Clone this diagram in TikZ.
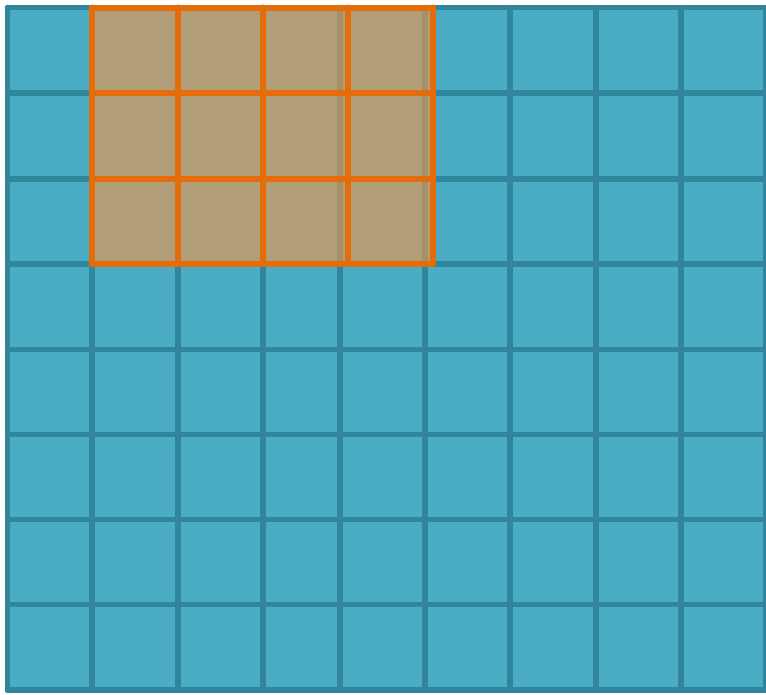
\documentclass[tikz,border=0pt]{standalone}
\usepackage{xcolor}
\usepackage{tikz}
\definecolor{grFill}{HTML}{4BACC6}
\definecolor{grLine}{HTML}{31859C}
\definecolor{grPatch}{HTML}{F79646}
\definecolor{grEdge}{HTML}{E46C0A}
\tikzset{
  gr diagram/.style={x=1pt, y=-1pt, line cap=round, line join=round},
  gr line/.style={draw=grLine, line width=5.5pt},
  gr patch/.style={fill=grPatch, fill opacity=0.6},
  gr edge/.style={draw=grEdge, line width=6pt}
}
\begin{document}
\begin{tikzpicture}[gr diagram]
\useasboundingbox (0,0) rectangle (766,694);
% base grid
\fill[grFill] (7.5,7.5) rectangle (766,690);
\foreach \x in {7.5,92,178,263,340,425,510,596,681,766}
  \draw[gr line] (\x,7.5) -- (\x,690);
\foreach \y in {7.5,93,179,264,349.5,434.5,519.5,604.5,690}
  \draw[gr line] (7.5,\y) -- (766,\y);
% highlighted block
\fill[gr patch] (92,7.5) rectangle (433,264);
\foreach \x in {92,178,263,348,433}
  \draw[gr edge] (\x,7.5) -- (\x,264);
\foreach \y in {7.5,93,179,264}
  \draw[gr edge] (92,\y) -- (433,\y);
\end{tikzpicture}
\end{document}
